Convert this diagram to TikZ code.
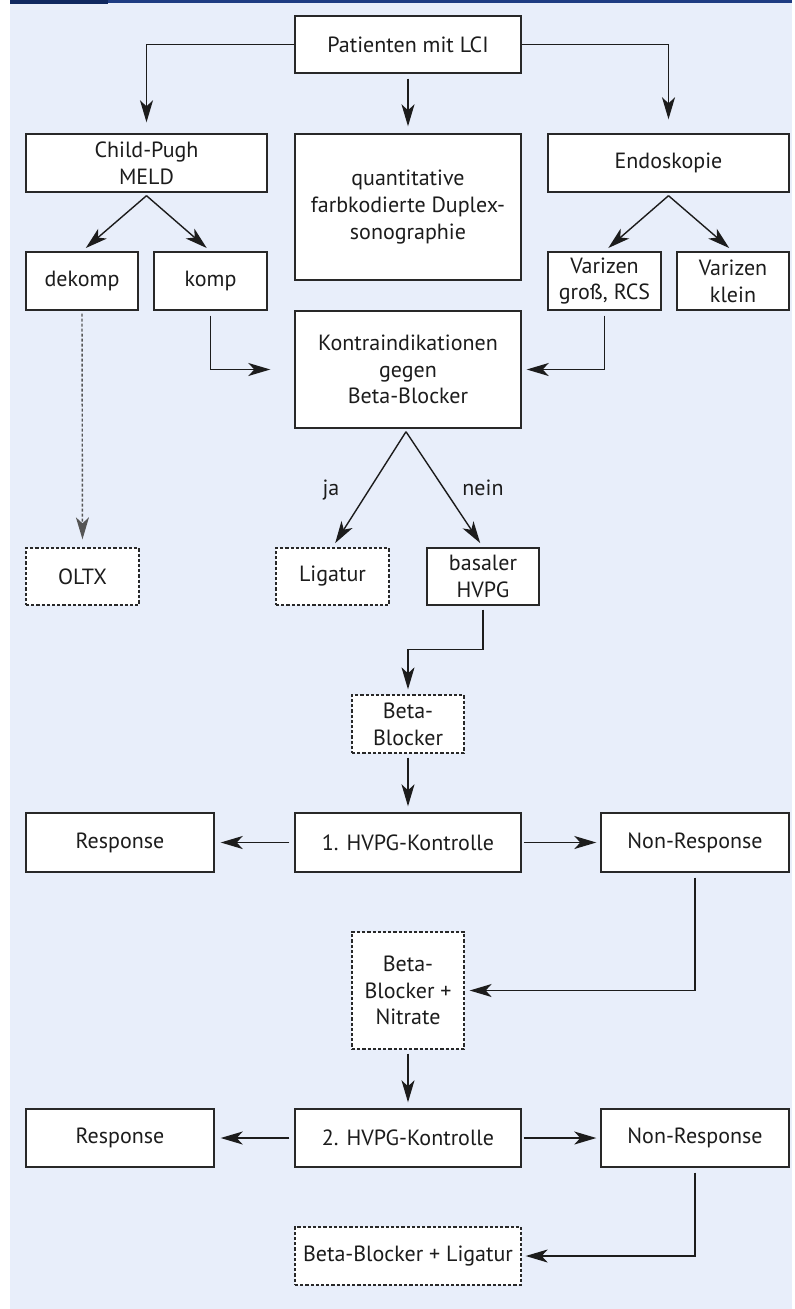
\documentclass[tikz,border=0pt]{standalone}
\usepackage{fontspec}
\setmainfont{PT Sans}
\usetikzlibrary{arrows.meta,calc}
\definecolor{bgblue}{RGB}{232,238,250}
\definecolor{barblue}{RGB}{30,60,130}
\definecolor{bardark}{RGB}{15,40,95}
\definecolor{ink}{RGB}{28,28,28}
\definecolor{frame}{RGB}{40,40,40}

\begin{document}
\begin{tikzpicture}[x=1pt,y=1pt]
\tikzstyle{every node}+=[inner sep=0pt, text=ink, font=\fontsize{22pt}{26.7pt}\selectfont]
\tikzstyle{box}=[draw=frame, fill=white, line width=1.4pt, align=center, minimum height=58pt]
\tikzstyle{dbox}=[box, dash pattern=on 3.2pt off 2pt, line width=1.3pt]
\tikzstyle{arr}=[draw=ink, line width=1.4pt, -{Stealth[length=22pt,width=13pt,inset=6pt]}]
\useasboundingbox (0,0) rectangle (795,-1309);
\fill [bgblue] (10,0) rectangle (792,-1309);
\fill [barblue] (10,0) rectangle (792,-2.5);
\fill [bardark] (10,0) rectangle (108,-3.5);
% top row
\node [box, minimum width=226pt, minimum height=57pt] (pat) at (408,-44.5) {Patienten mit LCI};
\node [box, minimum width=241pt] (child) at (146.5,-163) {Child-Pugh\\MELD};
\node [box, minimum width=226pt, minimum height=146pt] (quant) at (408,-207) {quantitative\\farbkodierte Duplex-\\sonographie};
\node [box, minimum width=241pt] (endo) at (668.5,-163) {Endoskopie};
\node [box, minimum width=112pt] (dekomp) at (82,-281) {dekomp};
\node [box, minimum width=113pt] (komp) at (210.5,-281) {komp};
\node [box, minimum width=113pt] (vgross) at (604.5,-281) {Varizen\\groß, RCS};
\node [box, minimum width=112pt] (vklein) at (733,-281) {Varizen\\klein};
\node [box, minimum width=226pt, minimum height=117pt] (kontra) at (408,-369.5) {Kontraindikationen\\gegen\\Beta-Blocker};
% therapy
\node [dbox, minimum width=113pt, minimum height=57pt] (oltx) at (82.5,-576.5) {OLTX};
\node [dbox, minimum width=113pt, minimum height=57pt] (ligatur) at (332.5,-576.5) {Ligatur};
\node [box, minimum width=112pt, minimum height=57pt] (basal) at (483,-576.5) {basaler\\HVPG};
\node [dbox, minimum width=112pt] (beta) at (408,-724) {Beta-\\Blocker};
\node [box, minimum width=188pt, minimum height=59pt] (resp1) at (120,-842.5) {Response};
\node [box, minimum width=226pt, minimum height=59pt] (hvpg1) at (408,-842.5) {1. HVPG-Kontrolle};
\node [box, minimum width=188pt, minimum height=59pt] (nonr1) at (695,-842.5) {Non-Response};
\node [dbox, minimum width=112pt, minimum height=117pt] (betanit) at (408,-990.5) {Beta-\\Blocker +\\Nitrate};
\node [box, minimum width=188pt] (resp2) at (120,-1138) {Response};
\node [box, minimum width=226pt] (hvpg2) at (408,-1138) {2. HVPG-Kontrolle};
\node [box, minimum width=188pt] (nonr2) at (695,-1138) {Non-Response};
\node [dbox, minimum width=226pt] (betalig) at (408,-1256) {Beta-Blocker + Ligatur};
\node [anchor=base] (lja) at (331,-495) {ja};
\node [anchor=base] (lnein) at (483,-495) {nein};
% connectors
\coordinate (cpfork) at ($(child.south)+(0,-3)$);
\coordinate (enfork) at ($(endo.south)+(0,-3)$);
\coordinate (kofork) at ($(kontra.south)+(-2,-3)$);
\draw [arr, shorten >=11pt] (pat.west) -| (child.north);
\draw [arr, shorten <=5pt, shorten >=7pt] (pat.south) -- (quant.north);
\draw [arr, shorten >=14pt] (pat.east) -| (endo.north);
\draw [arr, shorten >=5pt] (cpfork) -- (dekomp.north);
\draw [arr, shorten >=5pt] (cpfork) -- (komp.north);
\draw [arr, shorten >=5pt] (enfork) -- (vgross.north);
\draw [arr, shorten >=5pt] (enfork) -- (vklein.north);
\draw [arr, shorten <=5pt, shorten >=24pt] (komp.south) |- (kontra.west);
\draw [arr, shorten <=5pt, shorten >=5pt] (vgross.south) |- (kontra.east);
\draw [arr, draw=ink!75, dash pattern=on 3pt off 2pt, shorten <=3pt, shorten >=8pt] (dekomp.south) -- (oltx.north);
\draw [arr, shorten >=5pt] (kofork) -- (ligatur.north);
\draw [arr, shorten >=5pt] (kofork) -- (basal.north);
\draw [arr, shorten <=4pt, shorten >=5pt] (basal.south) -- ++(0,-44) -| (beta.north);
\draw [arr, shorten <=4pt, shorten >=6pt] (beta.south) -- (hvpg1.north);
\draw [arr, shorten <=5pt, shorten >=6pt] (hvpg1.west) -- (resp1.east);
\draw [arr, shorten <=2pt, shorten >=4pt] (hvpg1.east) -- (nonr1.west);
\draw [arr, shorten <=5pt, shorten >=5pt] (nonr1.south) |- (betanit.east);
\draw [arr, shorten <=4pt, shorten >=6pt] (betanit.south) -- (hvpg2.north);
\draw [arr, shorten <=5pt, shorten >=6pt] (hvpg2.west) -- (resp2.east);
\draw [arr, shorten <=2pt, shorten >=4pt] (hvpg2.east) -- (nonr2.west);
\draw [arr, shorten <=5pt, shorten >=4pt] (nonr2.south) |- (betalig.east);
\end{tikzpicture}
\end{document}
